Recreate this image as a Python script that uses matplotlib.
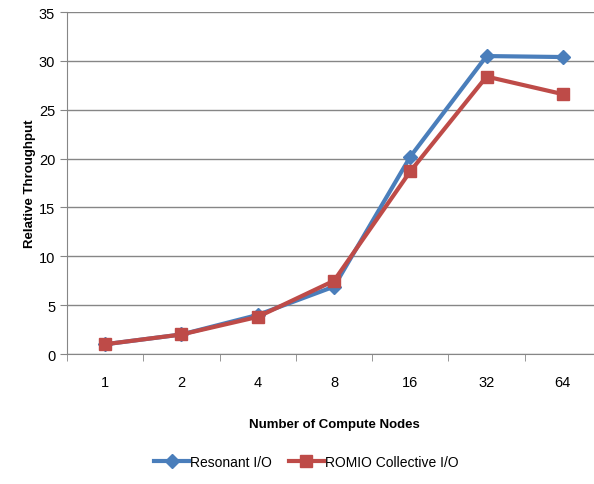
import matplotlib.pyplot as plt

nodes = ["1", "2", "4", "8", "16", "32", "64"]
resonant = [1.0, 2.0, 4.0, 6.9, 20.2, 30.5, 30.4]
romio = [1.0, 2.0, 3.8, 7.5, 18.7, 28.4, 26.6]

plt.rcParams["font.family"] = ["Liberation Sans", "DejaVu Sans"]

fig = plt.figure(figsize=(5.94, 4.85), dpi=100)
ax = fig.add_axes([0.1128, 0.268, 0.899, 0.705])

x = range(len(nodes))
ax.plot(x, resonant, color="#4A7EBB", lw=3, marker="D", ms=7, label="Resonant I/O")
ax.plot(x, romio, color="#BE4B48", lw=3, marker="s", ms=9, label="ROMIO Collective I/O")

ax.set_xlim(-0.5, len(nodes) - 0.5)
ax.set_ylim(0, 35)
ax.set_yticks(range(0, 36, 5))
ax.set_xticks(list(x))
ax.set_xticklabels(nodes)
ax.set_xticks([i - 0.5 for i in range(len(nodes) + 1)], minor=True)
ax.tick_params(axis="x", which="major", length=0, pad=15, labelsize=10.5)
ax.tick_params(axis="x", which="minor", length=5, color="#868686")
ax.tick_params(axis="y", length=5, color="#868686", labelsize=10.5)

ax.grid(axis="y", color="#868686", lw=1)
ax.set_axisbelow(True)
for side in ("top", "right"):
    ax.spines[side].set_visible(False)
for side in ("left", "bottom"):
    ax.spines[side].set_color("#868686")

ax.set_ylabel("Relative Throughput", fontsize=9.5, fontweight="bold", labelpad=2)
ax.set_xlabel("Number of Compute Nodes", fontsize=9.5, fontweight="bold", labelpad=21)

fig.legend(loc="center", bbox_to_anchor=(0.516, 0.045), ncol=2, frameon=False,
           fontsize=10, handlelength=2.5, columnspacing=1.2, handletextpad=0.1)

fig.savefig("out.png", dpi=100)
